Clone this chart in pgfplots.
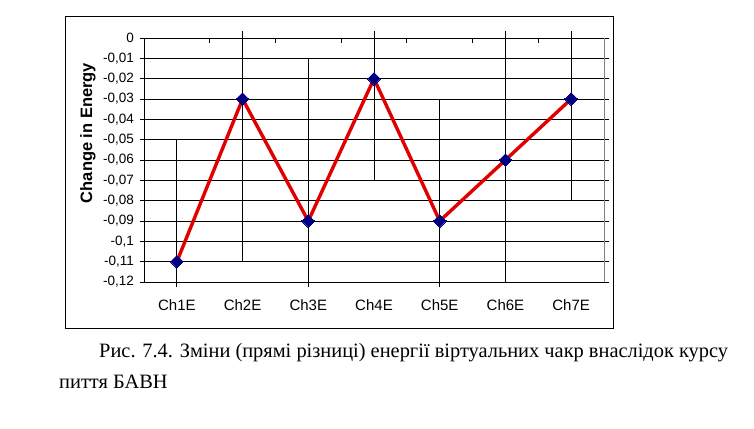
\documentclass[border=0pt]{standalone}
\usepackage{pgfplots}
\pgfplotsset{compat=1.18}
\usepackage{fontspec}
\setmainfont{Liberation Serif}
\newfontfamily\arial{Liberation Sans}
\definecolor{navyd}{RGB}{0,0,128}
\definecolor{redl}{RGB}{225,0,0}
\begin{document}
\begin{tikzpicture}[x=1pt,y=1pt]
\path[use as bounding box, fill=white] (0,0) rectangle (754,428);
\draw[black, line width=0.9pt] (65,100) rectangle (613,412);
\begin{axis}[
  at={(144pt,146pt)}, anchor=south west,
  scale only axis, width=460pt, height=244pt,
  xmin=0, xmax=7, ymin=-0.12, ymax=0,
  clip=false,
  axis line style={draw=none},
  ymajorgrids, grid style={black, line width=0.8pt},
  ytick={-0.12,-0.11,-0.10,-0.09,-0.08,-0.07,-0.06,-0.05,-0.04,-0.03,-0.02,-0.01,0},
  yticklabels={{-0,12},{-0,11},{-0,1},{-0,09},{-0,08},{-0,07},{-0,06},{-0,05},{-0,04},{-0,03},{-0,02},{-0,01},{0}},
  xtick={0.5,1.5,2.5,3.5,4.5,5.5,6.5},
  xticklabels={Ch1E,Ch2E,Ch3E,Ch4E,Ch5E,Ch6E,Ch7E},
  xtick style={draw=none},
  ytick style={black, line width=0.8pt},
  tick align=outside, major tick length=4.5pt,
  yticklabel style={font=\arial\fontsize{13.5}{15}\selectfont, xshift=-2pt},
  xticklabel style={font=\arial\fontsize{15}{17}\selectfont, yshift=-10pt},
]
\addplot[only marks, mark=none,
  error bars/.cd, y dir=both, y explicit, error mark=none,
  error bar style={black, line width=0.8pt}]
  coordinates {
  (0.5,-0.11) += (0,0.06) -= (0,0.0125)
  (1.5,-0.03) += (0,0.0335) -= (0,0.08)
  (2.5,-0.09) += (0,0.08) -= (0,0.0325)
  (3.5,-0.02) += (0,0.0235) -= (0,0.05)
  (4.5,-0.09) += (0,0.06) -= (0,0.0325)
  (5.5,-0.06) += (0,0.0635) -= (0,0.06)
  (6.5,-0.03) += (0,0.0335) -= (0,0.05)
  };
\draw[black, line width=0.8pt] (axis cs:0,-0.12) -- (axis cs:0,0);
\draw[gray, line width=0.9pt] (axis cs:7,-0.12) -- (axis cs:7,0);
\pgfplotsinvokeforeach{1,2,3,4,5,6}{\draw[black, line width=0.8pt] (axis cs:#1,0) -- ++(0pt,-5pt);}
\addplot[redl, line width=3.4pt, mark=square*, mark size=4.5pt,
  mark options={navyd, fill=navyd, rotate=45, line width=0pt}]
  coordinates {(0.5,-0.11) (1.5,-0.03) (2.5,-0.09) (3.5,-0.02) (4.5,-0.09) (5.5,-0.06) (6.5,-0.03)};
\end{axis}
\node[rotate=90, font=\arial\bfseries\fontsize{16.5}{18}\selectfont] at (88,295) {Change in Energy};
\node[anchor=base west, inner sep=0pt, font=\fontsize{20.4}{23}\selectfont] at (99,70) {Рис. 7.4. Зміни (прямі різниці) енергії віртуальних чакр внаслідок курсу};
\node[anchor=base west, inner sep=0pt, font=\fontsize{20.4}{23}\selectfont] at (59,39) {пиття БАВН};
\end{tikzpicture}
\end{document}
